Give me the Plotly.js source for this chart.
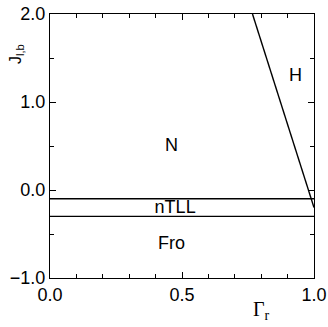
<!DOCTYPE html>
<html><head><meta charset="utf-8">
<script src="https://cdn.plot.ly/plotly-3.0.1.min.js"></script>
<style>html,body{margin:0;padding:0;background:#fff}#plot{width:328px;height:327px}</style>
</head><body><div id="plot"></div>
<script>
// phase boundaries
const upperX = [0, 1];
const upperY = [-0.1, -0.1];
const lowerX = [0, 1];
const lowerY = [-0.3, -0.3];
const diagX = [0.767, 1.0];
const diagY = [2.0, -0.2];
// region labels
const labelText = ['H', 'N', 'nTLL', 'Fro'];
const labelX = [0.93, 0.46, 0.474, 0.46];
const labelY = [1.29, 0.5, -0.21, -0.62];

const lineStyle = {color: '#000', width: 1.4};
const traces = [
  {x: upperX, y: upperY, mode: 'lines', line: lineStyle, hoverinfo: 'none'},
  {x: lowerX, y: lowerY, mode: 'lines', line: lineStyle, hoverinfo: 'none'},
  {x: diagX, y: diagY, mode: 'lines', line: lineStyle, hoverinfo: 'none'},
  {x: labelX, y: labelY, mode: 'text', text: labelText,
   textfont: {family: 'Liberation Sans, Arial, sans-serif', size: 18, color: '#000'},
   textposition: 'middle center', hoverinfo: 'none'}
];
const axisCommon = {
  showgrid: false, zeroline: false, showline: true, linecolor: '#000', linewidth: 1,
  mirror: 'allticks', ticks: 'inside', ticklen: 6, tickcolor: '#000',
  tickfont: {family: 'Liberation Sans, Arial, sans-serif', size: 18, color: '#000'},
  tickformat: '.1f'
};
const layout = {
  width: 328, height: 327,
  margin: {l: 49.5, r: 13.7, t: 14, b: 48.7},
  paper_bgcolor: '#fff', plot_bgcolor: '#fff',
  showlegend: false,
  xaxis: Object.assign({}, axisCommon, {range: [0, 1], dtick: 0.5, tick0: 0,
    minor: {dtick: 0.1, ticks: 'inside', ticklen: 4, tickcolor: '#000'}}),
  yaxis: Object.assign({}, axisCommon, {range: [-1, 2], dtick: 1, tick0: 0,
    minor: {dtick: 0.5, ticks: 'inside', ticklen: 4, tickcolor: '#000'}}),
  annotations: [
    {text: 'Γ<sub>r</sub>', xref: 'paper', yref: 'paper', x: 0.8025, y: -0.124,
     xanchor: 'center', yanchor: 'middle',
     showarrow: false, font: {family: 'Liberation Serif, Times New Roman, serif', size: 20, color: '#000'}},
    {text: 'J<sub>l,b</sub>', xref: 'paper', yref: 'paper', x: -0.127, y: 0.85,
     xanchor: 'center', yanchor: 'middle',
     textangle: -90, showarrow: false, font: {family: 'Liberation Sans, Arial, sans-serif', size: 16, color: '#000'}}
  ]
};
Plotly.newPlot('plot', traces, layout, {displayModeBar: false, staticPlot: true});
</script></body></html>
